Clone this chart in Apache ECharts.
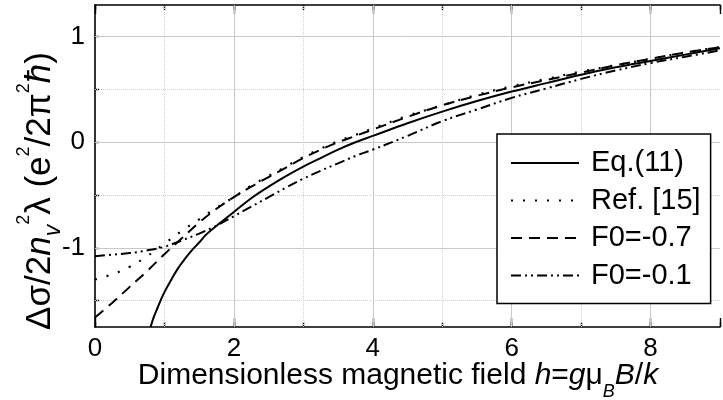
<!DOCTYPE html>
<html>
<head>
<meta charset="utf-8">
<script src="https://cdn.jsdelivr.net/npm/echarts@6/dist/echarts.min.js"></script>
<style>
  html, body { margin: 0; padding: 0; background: #fff; }
  #chart { width: 723px; height: 400px; }
</style>
</head>
<body>
<div id="chart"></div>
<script>
// Field values h (shared by the reference and F0 curves)
const hGrid = [0, 0.25, 0.5, 0.75, 1, 1.25, 1.5, 1.75, 2, 2.25, 2.5, 2.75, 3, 3.25, 3.5, 3.75, 4, 4.5, 5, 5.5, 6, 6.5, 7, 7.5, 8, 8.5, 9];
// Field values for Eq.(11), which only enters the window near h = 0.8
const hSolid = [0.80, 0.85, 0.90, 0.95, 1.0, 1.1, 1.2, 1.3, 1.4, 1.5, 1.6, 1.8, 2.0, 2.25, 2.5, 2.75, 3.0, 3.25, 3.5, 3.75, 4.0, 4.5, 5.0, 5.5, 6.0, 6.5, 7.0, 7.5, 8.0, 8.5, 9.0];

const eq11  = [-1.75, -1.65, -1.57, -1.49, -1.42, -1.30, -1.19, -1.10, -1.02, -0.95, -0.875, -0.765, -0.66, -0.53, -0.42, -0.32, -0.23, -0.15, -0.07, 0.0, 0.06, 0.18, 0.29, 0.39, 0.48, 0.56, 0.64, 0.71, 0.77, 0.83, 0.89];
const ref15 = [-1.30, -1.25, -1.18, -1.08, -0.96, -0.84, -0.73, -0.62, -0.52, -0.41, -0.32, -0.23, -0.14, -0.06, 0.01, 0.07, 0.13, 0.25, 0.35, 0.45, 0.53, 0.60, 0.67, 0.73, 0.79, 0.85, 0.90];
const f0m07 = [-1.66, -1.52, -1.37, -1.22, -1.06, -0.91, -0.76, -0.63, -0.52, -0.42, -0.33, -0.24, -0.15, -0.07, 0.0, 0.06, 0.12, 0.24, 0.35, 0.44, 0.52, 0.59, 0.66, 0.73, 0.79, 0.85, 0.90];
const f0m01 = [-1.08, -1.065, -1.05, -1.025, -0.99, -0.93, -0.865, -0.79, -0.70, -0.61, -0.52, -0.43, -0.345, -0.27, -0.20, -0.13, -0.07, 0.06, 0.20, 0.31, 0.42, 0.51, 0.60, 0.68, 0.75, 0.81, 0.87];

const seriesNames = ['Eq.(11)', 'Ref. [15]', 'F0=-0.7', 'F0=-0.1'];

// Axis ticks and grid lines
const xTickLabels = [0, 2, 4, 6, 8];
const yTickLabels = [-1, 0, 1];
const xMajorGrid = [2, 4, 6, 8];
const xMinorGrid = [1, 3, 5, 7];
const yMajorGrid = [-1, 0, 1];
const yMinorGrid = [-1.5, -0.5, 0.5];
const yTickMarks = [-1.5, -1, -0.5, 0, 0.5, 1];

const FONT = '"Liberation Sans", Arial, sans-serif';
const pairs = (xs, ys) => xs.map((x, i) => [x, ys[i]]);
const near = (v, list) => list.some(t => Math.abs(t - v) < 1e-6);

const majorGridStyle = { color: '#c8c8c8', width: 1, type: 'solid' };
const minorGridStyle = { color: '#d0d0d0', width: 1, type: [1, 1] };

const gridLines = [].concat(
  xMajorGrid.map(v => ({ xAxis: v, lineStyle: majorGridStyle })),
  xMinorGrid.map(v => ({ xAxis: v, lineStyle: minorGridStyle })),
  yMajorGrid.map(v => ({ yAxis: v, lineStyle: majorGridStyle })),
  yMinorGrid.map(v => ({ yAxis: v, lineStyle: minorGridStyle }))
);

const frameLine = { show: true, onZero: false, lineStyle: { color: '#000', width: 1.6 } };
const tickStyle = { color: '#000', width: 1.4 };

function xAxisDef(position, interval, tickLen, withLine, withLabels) {
  return {
    type: 'value', min: 0, max: 9, interval: interval, position: position,
    axisLine: withLine ? frameLine : { show: false, onZero: false },
    axisTick: { show: true, inside: true, length: tickLen, lineStyle: tickStyle },
    axisLabel: withLabels ? {
      show: true, margin: 9, fontSize: 26, color: '#000', fontFamily: FONT,
      formatter: v => near(v, xTickLabels) ? String(v) : ''
    } : { show: false },
    splitLine: { show: false }
  };
}

const lineBase = (name, data, type, width) => ({
  name: name, type: 'line', data: data, symbol: 'none',
  smooth: 0.4, clip: true,
  lineStyle: { color: '#000', width: width, type: type },
  itemStyle: { color: '#000' },
  emphasis: { disabled: true }
});

const eqSeries = lineBase(seriesNames[0], pairs(hSolid, eq11), 'solid', 2);
eqSeries.markLine = {
  silent: true, z: 1, symbol: ['none', 'none'], label: { show: false },
  emphasis: { disabled: true }, animation: false,
  data: gridLines
};

const option = {
  animation: false,
  backgroundColor: '#fff',
  grid: { left: 95, top: 5, right: -6.5, bottom: 73, containLabel: false },
  xAxis: [
    xAxisDef('bottom', 1, 5, true, true),
    xAxisDef('bottom', 2, 9, false, false),
    xAxisDef('top', 1, 5, true, false),
    xAxisDef('top', 2, 9, false, false)
  ],
  yAxis: {
    type: 'value', min: -1.75, max: 1.3, interval: 0.25,
    axisLine: frameLine,
    axisTick: { show: true, inside: true, length: 4, lineStyle: tickStyle, customValues: yTickMarks },
    axisLabel: {
      margin: 10, fontSize: 26, color: '#000', fontFamily: FONT,
      customValues: yTickLabels,
      formatter: v => near(v, yTickLabels) ? String(Math.round(v)) : ''
    },
    splitLine: { show: false }
  },
  legend: {
    orient: 'vertical', left: 497, top: 134,
    data: seriesNames, selectedMode: false,
    itemWidth: 68, itemHeight: 14, itemGap: 7.5,
    padding: [14, 10, 13, 13],
    backgroundColor: '#fff', borderColor: '#000', borderWidth: 1.5, borderRadius: 0,
    itemStyle: { opacity: 0 },
    textStyle: { fontSize: 29, fontFamily: FONT, color: '#000', lineHeight: 30, padding: [0, 0, 0, 7] }
  },
  graphic: [
    {
      type: 'text', x: 398, y: 376, silent: true,
      style: {
        text: '{n|Dimensionless magnetic field }{i|h}{n|=}{i|g}{n|μ}{s|B}{i|B}{n|/}{i|k}',
        align: 'center', verticalAlign: 'middle', fill: '#000',
        rich: {
          n: { fontSize: 30, fontFamily: FONT, lineHeight: 50, verticalAlign: 'middle', fill: '#000' },
          i: { fontSize: 30, fontFamily: FONT, fontStyle: 'italic', lineHeight: 50, verticalAlign: 'middle', fill: '#000' },
          s: { fontSize: 18, fontFamily: FONT, fontStyle: 'italic', lineHeight: 20, verticalAlign: 'bottom', fill: '#000' }
        }
      }
    },
    {
      type: 'text', x: 40, y: 191, rotation: Math.PI / 2, silent: true,
      style: {
        text: '{n|Δσ/2}{i|n}{b|v}{p|2}{n|λ (e}{p|2}{n|/2π}{p|2}{i|ħ}{n|)}',
        align: 'center', verticalAlign: 'middle', fill: '#000',
        rich: {
          n: { fontSize: 35, fontFamily: FONT, lineHeight: 50, verticalAlign: 'middle', fill: '#000' },
          i: { fontSize: 35, fontFamily: FONT, fontStyle: 'italic', lineHeight: 50, verticalAlign: 'middle', fill: '#000' },
          p: { fontSize: 18, fontFamily: FONT, lineHeight: 16, verticalAlign: 'top', fill: '#000' },
          b: { fontSize: 23, fontFamily: FONT, fontStyle: 'italic', lineHeight: 12, verticalAlign: 'bottom', fill: '#000' }
        }
      }
    }
  ],
  series: [
    eqSeries,
    lineBase(seriesNames[1], pairs(hGrid, ref15), [2, 10], 2.2),
    lineBase(seriesNames[2], pairs(hGrid, f0m07), [11, 7], 2),
    lineBase(seriesNames[3], pairs(hGrid, f0m01), [10, 4, 2, 4, 2, 4], 2)
  ]
};

const chart = echarts.init(document.getElementById('chart'), null, { renderer: 'canvas' });
chart.setOption(option);
</script>
</body>
</html>
